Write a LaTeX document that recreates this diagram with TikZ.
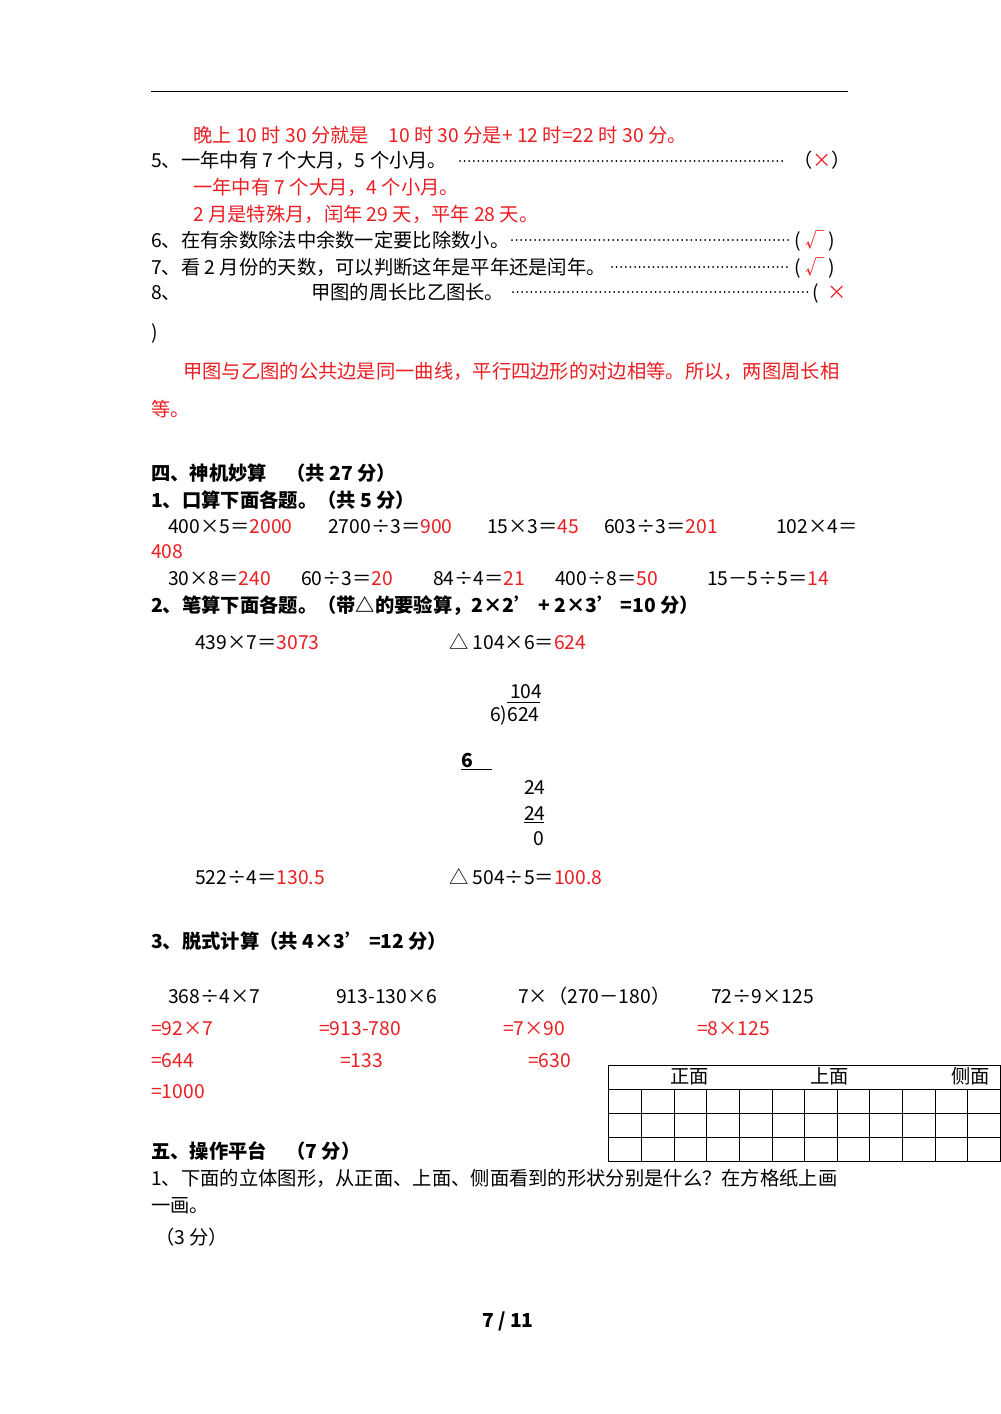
\documentclass[tikz,border=0pt]{standalone}
\usepackage{fontspec}
\setmainfont{Noto Sans CJK SC}
\definecolor{rd}{RGB}{235,30,35}
\newcounter{tn}
\newcommand{\T}[4][black]{\stepcounter{tn}\node[txt,text=#1] (t\arabic{tn}) at (#2,#3) {#4};}
\newcommand{\B}[3]{\stepcounter{tn}\node[txt,font=\fontsize{19.3}{21}\selectfont\bfseries] (t\arabic{tn}) at (#1,#2) {#3};}
\tikzset{txt/.style={anchor=base west,inner sep=0pt,font=\fontsize{19.3}{21}\selectfont},
 lead/.style={line width=2pt,line cap=round,dash pattern=on 0pt off 4.6pt},
 grid/.style={line width=0.8pt}}
\begin{document}
\begin{tikzpicture}[x=1pt,y=-1pt]
\fill[white] (0,0) rectangle (1000,1414);
\draw[line width=1pt] (151,91) -- (848,91);
\T[rd]{193}{142}{晚上 10 时 30 分就是　10 时 30 分是+ 12 时=22 时 30 分。}
\T{151}{167}{5、一年中有 7 个大月，5 个小月。}
\draw[lead] (460,161) -- (786,161);
\T{793}{167}{（\textcolor{rd}{×}）}
\T[rd]{193}{194}{一年中有 7 个大月，4 个小月。}
\T[rd]{193}{221}{2 月是特殊月，闰年 29 天，平年 28 天。}
\T{151}{247}{6、在有余数除法中余数一定要比除数小。}
\draw[lead] (512,240) -- (790,240);
\T{794}{247}{(\ \textcolor{rd}{√}\ )}
\T{151}{274}{7、看 2 月份的天数，可以判断这年是平年还是闰年。}
\draw[lead] (612,267) -- (790,267);
\T{794}{274}{(\ \textcolor{rd}{√}\ )}
\T{151}{299}{8、}
\T{311}{299}{甲图的周长比乙图长。}
\draw[lead] (513,292) -- (808,292);
\T{812}{299}{(\ \ \textcolor{rd}{×}}
\T{151}{339}{)}
\T[rd]{183}{378}{甲图与乙图的公共边是同一曲线，平行四边形的对边相等。所以，两图周长相}
\T[rd]{151}{416}{等。}
\B{151}{480}{四、神机妙算　（共 27 分）}
\B{151}{507}{1、口算下面各题。（共 5 分）}
\T{168}{533}{400×5＝\textcolor{rd}{2000}}
\T{328}{533}{2700÷3＝\textcolor{rd}{900}}
\T{487}{533}{15×3＝\textcolor{rd}{45}}
\T{604}{533}{603÷3＝\textcolor{rd}{201}}
\T{776}{533}{102×4＝}
\T[rd]{151}{558}{408}
\T{168}{585}{30×8＝\textcolor{rd}{240}}
\T{301}{585}{60÷3＝\textcolor{rd}{20}}
\T{433}{585}{84÷4＝\textcolor{rd}{21}}
\T{555}{585}{400÷8＝\textcolor{rd}{50}}
\T{707}{585}{15－5÷5＝\textcolor{rd}{14}}
\B{151}{612}{2、笔算下面各题。（带△的要验算，2×2’ + 2×3’ =10 分）}
\T{195}{649}{439×7＝\textcolor{rd}{3073}}
\T{449}{649}{△ 104×6＝\textcolor{rd}{624}}
\T{510}{698}{104}
\draw (507,702) -- (540,702);
\T{490}{721}{6)624}
\B{461}{767}{6}
\draw (461,769) -- (492,769);
\T{524}{794}{24}
\T{524}{820}{24}
\draw (524,822) -- (544,822);
\T{533}{845}{0}
\T{195}{884}{522÷4＝\textcolor{rd}{130.5}}
\T{449}{884}{△ 504÷5＝\textcolor{rd}{100.8}}
\B{151}{948}{3、脱式计算（共 4×3’ =12 分）}
\T{168}{1003}{368÷4×7}
\T{336}{1003}{913-130×6}
\T{518}{1003}{7×（270－180）}
\T{711}{1003}{72÷9×125}
\T[rd]{151}{1035}{=92×7}
\T[rd]{319}{1035}{=913-780}
\T[rd]{503}{1035}{=7×90}
\T[rd]{697}{1035}{=8×125}
\T[rd]{151}{1067}{=644}
\T[rd]{340}{1067}{=133}
\T[rd]{528}{1067}{=630}
\T[rd]{151}{1098}{=1000}
\draw[grid] (608,1065) rectangle (1000,1161);
\foreach \yy in {1089,1113,1137} \draw[grid] (608,\yy) -- (1000,\yy);
\foreach \xx in {641,674,706,739,772,804,837,869,902,935,967} \draw[grid] (\xx,1089) -- (\xx,1161);
\T{670}{1083}{正面}
\T{810}{1083}{上面}
\T{951}{1083}{侧面}
\B{151}{1158}{五、操作平台　（7 分）}
\T{151}{1185}{1、下面的立体图形，从正面、上面、侧面看到的形状分别是什么？在方格纸上画}
\T{151}{1212}{一画。}
\T{155}{1244}{（3 分）}
\B{482}{1327}{7 / 11}
\end{tikzpicture}
\end{document}
